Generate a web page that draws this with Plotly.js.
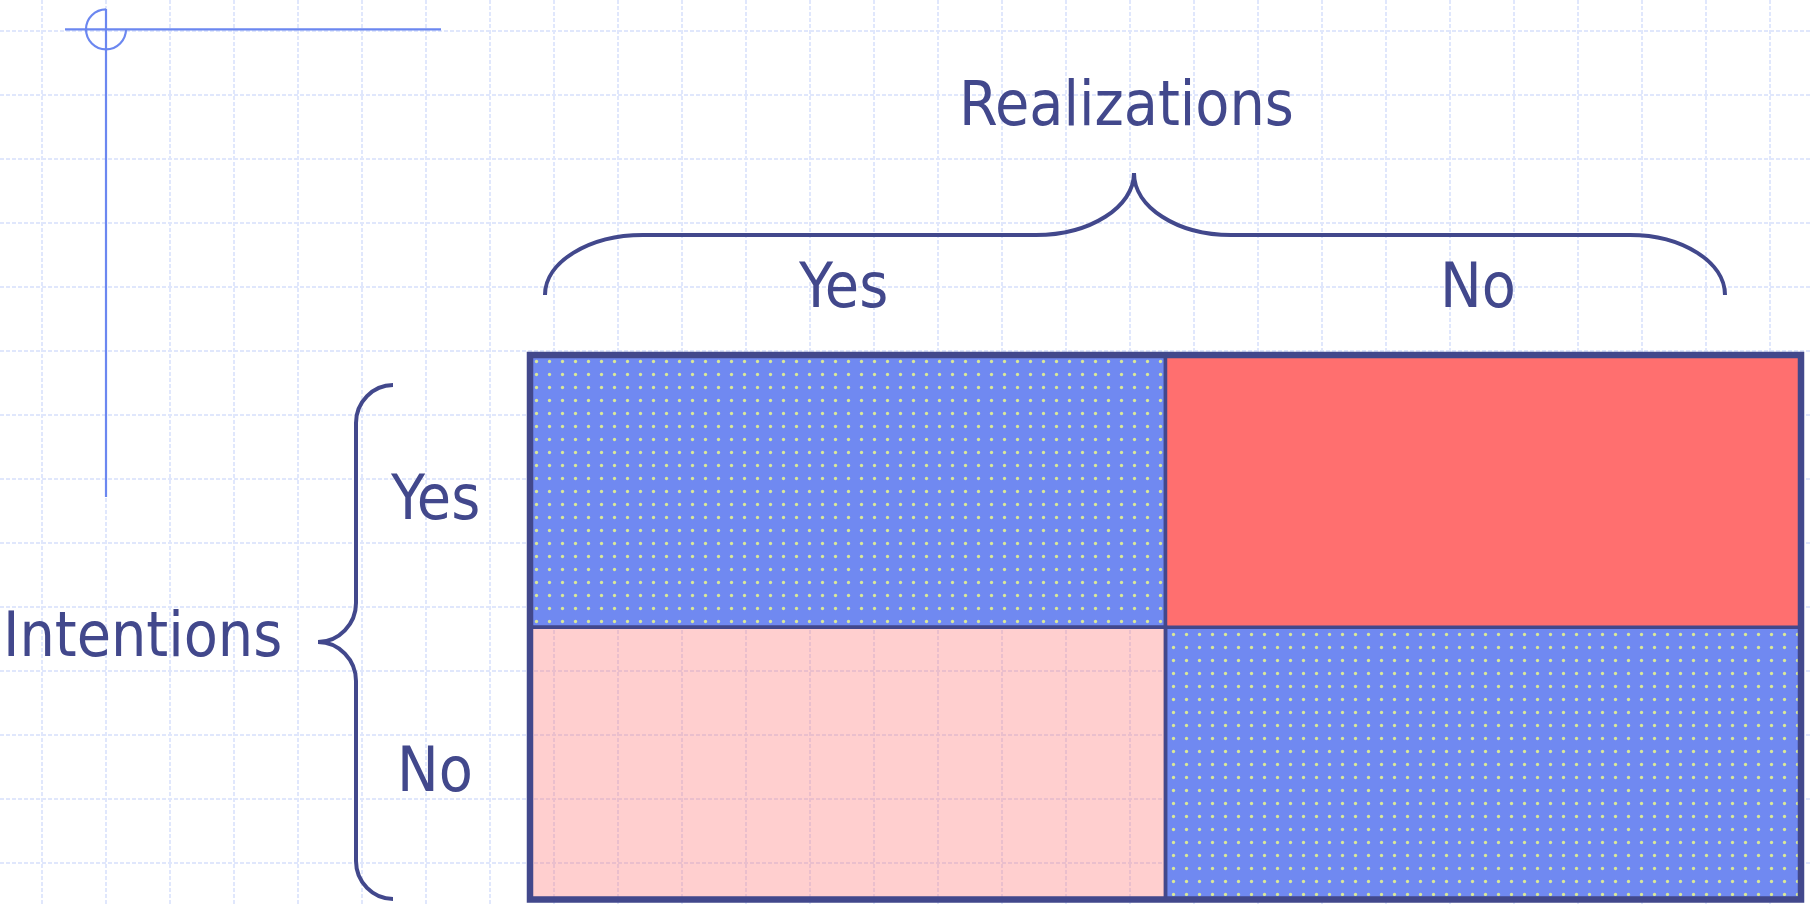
<!DOCTYPE html>
<html>
<head>
<meta charset="utf-8">
<script src="https://cdn.plot.ly/plotly-3.0.1.min.js"></script>
<style>
  html, body { margin: 0; padding: 0; background: #ffffff; }
  #chart { width: 1810px; height: 905px; }
</style>
</head>
<body>
<div id="chart"></div>
<script>
// ---------------- data ----------------
var realizations = ['Yes', 'No'];          // columns
var intentions = ['Yes', 'No'];            // rows (top to bottom)
var columnTitle = 'Realizations';
var rowTitle = 'Intentions';
// outcome of each cell: rows = intentions, cols = realizations
var cellOutcome = [
  ['match', 'unrealized'],
  ['unplanned', 'match']
];

// ---------------- styles ----------------
var navy = '#42488c';
var FONT = 'Tahoma, "DejaVu Sans Condensed", "DejaVu Sans", sans-serif';
var outcomeStyle = {
  match:      { color: '#7089f1', pattern: { shape: '.', fgcolor: '#d9e897', bgcolor: '#7089f1', fillmode: 'replace', size: 13, solidity: 0.05 } },
  unrealized: { color: '#ff6f6f', pattern: { shape: '' } },
  unplanned:  { color: 'rgba(255,110,110,0.33)', pattern: { shape: '' } }
};

// ---------------- traces ----------------
var traces = [];
Object.keys(outcomeStyle).forEach(function (key) {
  var xs = [], ys = [], bases = [];
  intentions.forEach(function (rowName, i) {
    realizations.forEach(function (colName, j) {
      if (cellOutcome[i][j] === key) {
        xs.push(colName);
        ys.push(1);
        bases.push(intentions.length - 1 - i);
      }
    });
  });
  traces.push({
    type: 'bar', xaxis: 'x2', yaxis: 'y2',
    x: xs, y: ys, base: bases, width: 1,
    marker: {
      color: outcomeStyle[key].color,
      pattern: outcomeStyle[key].pattern,
      line: { color: navy, width: 3.5 }
    },
    hoverinfo: 'skip', showlegend: false, name: key
  });
});

// ---------------- decorations ----------------
var cross = '#6b87f0';
var shapes = [
  // outer frame of the matrix
  { type: 'rect', xref: 'x2 domain', yref: 'y2 domain', x0: 0, x1: 1, y0: 0, y1: 1,
    line: { color: navy, width: 6.5 }, layer: 'above' },
  // top brace
  { type: 'path', xref: 'x', yref: 'y', layer: 'above', line: { color: navy, width: 4 },
    path: 'M545,295 C545,262 589,235 643,235 L1036,235 C1090,235 1134,207 1134,173 ' +
          'C1134,207 1177,235 1231,235 L1630,235 C1682,235 1725,262 1725,295' },
  // left brace
  { type: 'path', xref: 'x', yref: 'y', layer: 'above', line: { color: navy, width: 4 },
    path: 'M393,385 C373,385 356,402 356,423 L356,603 C356,624 339,642 318,642 ' +
          'C339,642 356,660 356,681 L356,861 C356,882 373,899 393,899' },
  // crosshair mark
  { type: 'line', xref: 'x', yref: 'y', x0: 65, x1: 441, y0: 29.3, y1: 29.3, line: { color: cross, width: 2.2 } },
  { type: 'line', xref: 'x', yref: 'y', x0: 106, x1: 106, y0: 9, y1: 497, line: { color: cross, width: 2.2 } },
  { type: 'path', xref: 'x', yref: 'y', line: { color: cross, width: 2.2 },
    path: 'M106,9.3 C94.95,9.3 86,18.25 86,29.3 C86,40.35 94.95,49.3 106,49.3 C117.05,49.3 126,40.35 126,29.3' }
];

var txt = { family: FONT, size: 62, color: navy };
var annotations = [
  { text: columnTitle, xref: 'x', yref: 'y', x: 1126, y: 103, showarrow: false, font: txt,
    xanchor: 'center', yanchor: 'middle' },
  { text: rowTitle, xref: 'x', yref: 'y', x: 142, y: 634, showarrow: false, font: txt,
    xanchor: 'center', yanchor: 'middle' }
];
realizations.forEach(function (c) {
  annotations.push({ text: c, xref: 'x2', yref: 'y', x: c, y: 285, xshift: -5, showarrow: false,
    font: txt, xanchor: 'center', yanchor: 'middle' });
});
intentions.forEach(function (r, i) {
  annotations.push({ text: r, xref: 'x', yref: 'y2', x: 435, y: intentions.length - 1 - i + 0.5, yshift: -6,
    showarrow: false, font: txt, xanchor: 'center', yanchor: 'middle' });
});

var gridCol = '#e0e7fc';
var layout = {
  width: 1810, height: 905,
  margin: { l: 0, r: 0, t: 0, b: 0, pad: 0 },
  paper_bgcolor: '#ffffff', plot_bgcolor: 'rgba(0,0,0,0)',
  barmode: 'overlay', bargap: 0,
  showlegend: false,
  xaxis: { domain: [0, 1], range: [0, 1810], tick0: 42, dtick: 64, showgrid: true,
           gridcolor: gridCol, griddash: '4px,2px', gridwidth: 1.5,
           showticklabels: false, ticks: '', zeroline: false, showline: false, fixedrange: true },
  yaxis: { domain: [0, 1], range: [905, 0], tick0: 31, dtick: 64, showgrid: true,
           gridcolor: gridCol, griddash: '4px,2px', gridwidth: 1.5,
           showticklabels: false, ticks: '', zeroline: false, showline: false, fixedrange: true },
  xaxis2: { anchor: 'y2', domain: [530 / 1810, 1801 / 1810], type: 'category',
            categoryorder: 'array', categoryarray: realizations, range: [-0.5, 1.5],
            showgrid: false, showticklabels: false, ticks: '', zeroline: false, showline: false, fixedrange: true },
  yaxis2: { anchor: 'x2', domain: [1 - 899.5 / 905, 1 - 355 / 905], range: [0, intentions.length],
            showgrid: false, showticklabels: false, ticks: '', zeroline: false, showline: false, fixedrange: true },
  shapes: shapes,
  annotations: annotations
};

Plotly.newPlot('chart', traces, layout, { displayModeBar: false, staticPlot: true });
</script>
</body>
</html>
